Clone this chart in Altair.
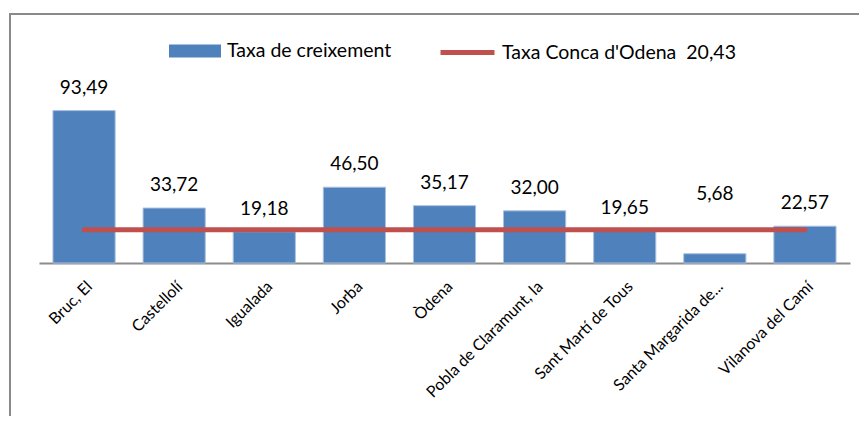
import altair as alt
import pandas as pd

municipis = ["Bruc, El", "Castellolí", "Igualada", "Jorba", "Òdena",
             "Pobla de Claramunt, la", "Sant Martí de Tous",
             "Santa Margarida de...", "Vilanova del Camí"]
taxa = [93.49, 33.72, 19.18, 46.50, 35.17, 32.00, 19.65, 5.68, 22.57]
# vertical anchor of each value label (Excel moved the 5,68 label above the line)
pos_etiqueta = [93.49, 33.72, 19.18, 46.50, 35.17, 32.00, 19.65, 28.0, 22.57]
taxa_conca = 20.43
serie_barres = "Taxa de creixement"
serie_linia = "Taxa Conca d'Odena\u00a0 20,43"

df = pd.DataFrame({
    "municipi": municipis,
    "taxa": taxa,
    "pos": pos_etiqueta,
    "etiqueta": [f"{v:.2f}".replace(".", ",") for v in taxa],
    "conca": [taxa_conca] * len(municipis),
    "s1": [serie_barres] * len(municipis),
    "s2": [serie_linia] * len(municipis),
})

FONT = "Lato"
xenc = alt.X("municipi:N", sort=municipis,
             scale=alt.Scale(paddingInner=0.31, paddingOuter=0.155),
             axis=alt.Axis(title=None, labelAngle=-45, ticks=False, labelPadding=15,
                           labelFont=FONT, labelFontSize=16, labelColor="#000",
                           labelLimit=0,
                           domainColor="#8c8c8c", domainWidth=2, grid=False))
yscale = alt.Scale(domain=[0, 100], nice=False)

base = alt.Chart(df)

bars = base.mark_bar(stroke="#a9c0df", strokeWidth=1).encode(
    x=xenc,
    y=alt.Y("taxa:Q", scale=yscale, axis=None),
    fill=alt.Fill("s1:N", scale=alt.Scale(domain=[serie_barres], range=["#4f81bd"]),
                  legend=alt.Legend(title=None, orient="none", legendX=130, legendY=-75,
                                    symbolType="M-1,-0.25H1V0.25H-1Z", symbolSize=2704,
                                    symbolStrokeWidth=0, labelOffset=6, padding=0,
                                    labelLimit=0,
                                    labelFont=FONT, labelFontSize=19.5, labelColor="#000")),
)

labels = base.mark_text(font=FONT, fontSize=19, color="#000", baseline="alphabetic", dy=-17).encode(
    x=alt.X("municipi:N", sort=municipis),
    y=alt.Y("pos:Q", scale=yscale),
    text="etiqueta:N",
)

line = base.mark_line(strokeWidth=5, strokeCap="round").encode(
    x=alt.X("municipi:N", sort=municipis),
    y=alt.Y("conca:Q", scale=yscale),
    stroke=alt.Stroke("s2:N", scale=alt.Scale(domain=[serie_linia], range=["#c0504d"]),
                      legend=alt.Legend(title=None, orient="none", legendX=399, legendY=-77,
                                        symbolType="stroke", symbolSize=2916,
                                        symbolStrokeWidth=5, labelOffset=5, padding=0,
                                        labelLimit=0,
                                        labelFont=FONT, labelFontSize=19.5, labelColor="#000")),
)

frame = alt.Chart(pd.DataFrame({"k": [0]})).mark_rect(
    fill=None, stroke="#8a8a8a", strokeWidth=2
).encode(
    x=alt.value(-29), x2=alt.value(1200), y=alt.value(-86), y2=alt.value(800)
)

chart = alt.layer(frame, bars, line, labels).properties(
    width=811, height=163,
    background="white",
    autosize=alt.AutoSizeParams(type="none"),
    padding={"left": 31, "top": 92, "right": 9, "bottom": 153},
).configure_view(stroke=None, strokeWidth=0)

chart.save("out.html", embed_options={"renderer": "svg", "actions": False})
